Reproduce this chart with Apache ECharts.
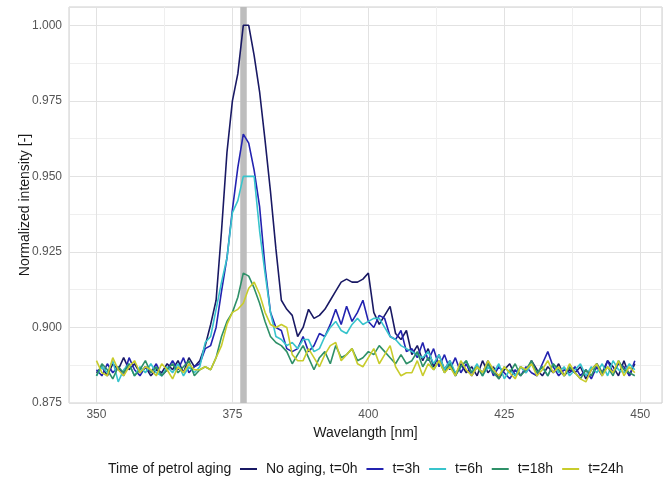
<!DOCTYPE html>
<html><head><meta charset="utf-8">
<script src="https://cdn.jsdelivr.net/npm/echarts@6/dist/echarts.min.js"></script>
<style>html,body{margin:0;padding:0;background:#fff}#c{width:667px;height:482px}</style>
</head><body><div id="c"></div>
<script>
const wavelength = [
350,351,352,353,354,355,356,357,358,359,
360,361,362,363,364,365,366,367,368,369,
370,371,372,373,374,375,376,377,378,379,
380,381,382,383,384,385,386,387,388,389,
390,391,392,393,394,395,396,397,398,399,
400,401,402,403,404,405,406,407,408,409,
410,411,412,413,414,415,416,417,418,419,
420,421,422,423,424,425,426,427,428,429,
430,431,432,433,434,435,436,437,438,439,
440,441,442,443,444,445,446,447,448,449];

const t0h = [
0.885,0.887,0.884,0.888,0.886,0.890,0.886,0.888,0.885,0.887,
0.884,0.886,0.885,0.888,0.886,0.889,0.885,0.890,0.887,0.889,
0.894,0.901,0.909,0.932,0.958,0.975,0.984,1.000,1.000,0.990,
0.978,0.962,0.945,0.926,0.909,0.906,0.904,0.897,0.900,0.906,
0.903,0.904,0.906,0.909,0.912,0.915,0.916,0.915,0.915,0.916,
0.918,0.905,0.901,0.904,0.907,0.898,0.896,0.899,0.891,0.894,
0.889,0.893,0.887,0.891,0.886,0.889,0.884,0.888,0.885,0.887,
0.884,0.889,0.885,0.887,0.883,0.886,0.888,0.884,0.887,0.885,
0.889,0.886,0.884,0.887,0.885,0.888,0.884,0.886,0.885,0.887,
0.883,0.886,0.888,0.885,0.889,0.887,0.884,0.889,0.884,0.888];

const t3h = [
0.886,0.884,0.888,0.885,0.887,0.884,0.890,0.886,0.884,0.887,
0.885,0.888,0.884,0.886,0.889,0.886,0.890,0.885,0.887,0.888,
0.893,0.894,0.900,0.912,0.923,0.939,0.953,0.964,0.961,0.952,
0.940,0.920,0.905,0.900,0.899,0.893,0.892,0.893,0.897,0.892,
0.894,0.898,0.897,0.901,0.906,0.901,0.907,0.902,0.905,0.909,
0.902,0.900,0.904,0.903,0.897,0.896,0.899,0.892,0.893,0.890,
0.895,0.889,0.893,0.887,0.891,0.886,0.890,0.885,0.888,0.884,
0.887,0.885,0.889,0.884,0.887,0.885,0.883,0.886,0.884,0.887,
0.885,0.884,0.888,0.892,0.887,0.884,0.886,0.885,0.887,0.884,
0.886,0.883,0.887,0.884,0.889,0.885,0.888,0.887,0.884,0.889];

const t6h = [
0.884,0.887,0.885,0.889,0.882,0.886,0.888,0.884,0.887,0.885,
0.888,0.885,0.884,0.887,0.885,0.888,0.884,0.887,0.885,0.887,
0.895,0.897,0.906,0.915,0.923,0.938,0.942,0.950,0.950,0.950,
0.932,0.918,0.905,0.897,0.896,0.894,0.895,0.893,0.896,0.896,
0.892,0.893,0.897,0.900,0.902,0.899,0.898,0.901,0.903,0.901,
0.902,0.903,0.903,0.900,0.897,0.896,0.894,0.893,0.892,0.891,
0.890,0.892,0.888,0.891,0.886,0.889,0.885,0.887,0.889,0.885,
0.888,0.884,0.887,0.885,0.888,0.883,0.886,0.884,0.887,0.885,
0.888,0.885,0.887,0.884,0.888,0.885,0.887,0.884,0.886,0.888,
0.884,0.887,0.885,0.888,0.884,0.889,0.886,0.885,0.888,0.886];

const t18h = [
0.884,0.888,0.886,0.883,0.887,0.885,0.888,0.884,0.886,0.889,
0.885,0.887,0.884,0.886,0.888,0.885,0.887,0.889,0.884,0.886,
0.887,0.886,0.890,0.897,0.902,0.905,0.910,0.918,0.917,0.913,
0.908,0.902,0.897,0.895,0.894,0.892,0.888,0.891,0.894,0.890,
0.886,0.890,0.892,0.888,0.894,0.890,0.891,0.893,0.889,0.890,
0.892,0.891,0.894,0.892,0.890,0.888,0.891,0.888,0.889,0.892,
0.887,0.890,0.886,0.889,0.885,0.888,0.884,0.887,0.889,0.885,
0.887,0.884,0.888,0.885,0.883,0.887,0.885,0.888,0.884,0.886,
0.889,0.885,0.887,0.884,0.888,0.886,0.884,0.887,0.885,0.883,
0.886,0.884,0.888,0.885,0.887,0.884,0.889,0.886,0.885,0.884];

const t24h = [
0.889,0.885,0.884,0.890,0.886,0.884,0.887,0.889,0.885,0.887,
0.886,0.884,0.888,0.886,0.883,0.887,0.885,0.888,0.886,0.886,
0.887,0.886,0.890,0.894,0.901,0.905,0.906,0.908,0.913,0.915,
0.911,0.905,0.901,0.900,0.901,0.900,0.891,0.889,0.889,0.893,
0.890,0.887,0.891,0.894,0.895,0.889,0.891,0.893,0.888,0.887,
0.890,0.893,0.888,0.891,0.894,0.887,0.884,0.885,0.885,0.889,
0.884,0.888,0.886,0.889,0.885,0.887,0.884,0.889,0.886,0.884,
0.887,0.885,0.889,0.886,0.884,0.887,0.885,0.883,0.887,0.886,
0.888,0.884,0.886,0.889,0.885,0.887,0.884,0.888,0.885,0.883,
0.882,0.886,0.888,0.884,0.887,0.885,0.889,0.884,0.887,0.885];

const seriesNames = ['No aging, t=0h', 't=3h', 't=6h', 't=18h', 't=24h'];
const seriesValues = [t0h, t3h, t6h, t18h, t24h];
const seriesColors = ['#191964', '#2323b0', '#38c4cc', '#2e9068', '#c8cc2c'];
const markerWavelength = [377];
const legendTitle = 'Time of petrol aging';

const FONT = '"Liberation Sans", Arial, sans-serif';
const chart = echarts.init(document.getElementById('c'), null, {renderer: 'canvas'});

const series = seriesNames.map((name, i) => ({
  name: name,
  type: 'line',
  data: wavelength.map((w, j) => [w, seriesValues[i][j]]),
  showSymbol: false,
  symbol: 'none',
  lineStyle: {width: 1.6, color: seriesColors[i]},
  itemStyle: {color: seriesColors[i]},
  z: 3 + i,
  animation: false
}));
series[0].markLine = {
  silent: true,
  symbol: ['none', 'none'],
  label: {show: false},
  lineStyle: {color: '#bdbdbd', width: 6.5, type: 'solid', opacity: 1},
  data: markerWavelength.map(v => ({xAxis: v})),
  z: 1,
  animation: false
};

chart.setOption({
  animation: false,
  backgroundColor: '#ffffff',
  textStyle: {fontFamily: FONT},
  grid: {left: 69, top: 7, width: 593, height: 396, show: true, borderColor: '#cfcfcf', borderWidth: 1, backgroundColor: 'transparent'},
  xAxis: {
    type: 'value', min: 344.95, max: 454.0, minInterval: 25, maxInterval: 25,
    name: 'Wavelangth [nm]', nameLocation: 'middle', nameGap: 21,
    nameTextStyle: {fontSize: 14, color: '#1a1a1a', fontFamily: FONT},
    axisLine: {show: false}, axisTick: {show: false},
    axisLabel: {fontSize: 12, color: '#555555', margin: 6, showMinLabel: false, showMaxLabel: false, fontFamily: FONT},
    splitLine: {show: true, lineStyle: {color: '#e2e2e2', width: 1}},
    minorTick: {show: false, splitNumber: 2},
    minorSplitLine: {show: true, lineStyle: {color: '#efefef', width: 1}}
  },
  yAxis: {
    type: 'value', min: 0.875, max: 1.00606, minInterval: 0.025, maxInterval: 0.025,
    name: 'Normalized intensity [-]', nameLocation: 'middle', nameGap: 37, nameRotate: 90,
    nameMoveOverlap: false,
    nameTextStyle: {fontSize: 14, color: '#1a1a1a', fontFamily: FONT},
    axisLine: {show: false}, axisTick: {show: false},
    axisLabel: {fontSize: 12, color: '#555555', margin: 7, showMaxLabel: false, fontFamily: FONT,
      formatter: v => v.toFixed(3)},
    splitLine: {show: true, lineStyle: {color: '#e2e2e2', width: 1}},
    minorTick: {show: false, splitNumber: 2},
    minorSplitLine: {show: true, lineStyle: {color: '#efefef', width: 1}}
  },
  legend: {
    show: true, orient: 'horizontal', left: 240, top: 462, padding: 0,
    itemWidth: 17, itemHeight: 2, itemGap: 9, icon: 'rect',
    selectedMode: false,
    textStyle: {fontSize: 14, color: '#1a1a1a', fontFamily: FONT, padding: [0, 0, 0, 4]},
    data: seriesNames
  },
  graphic: [{
    type: 'text', left: 108, top: 462,
    style: {text: legendTitle, fontSize: 14, fill: '#1a1a1a', fontFamily: FONT}
  }],
  series: series
});
</script>
</body></html>
